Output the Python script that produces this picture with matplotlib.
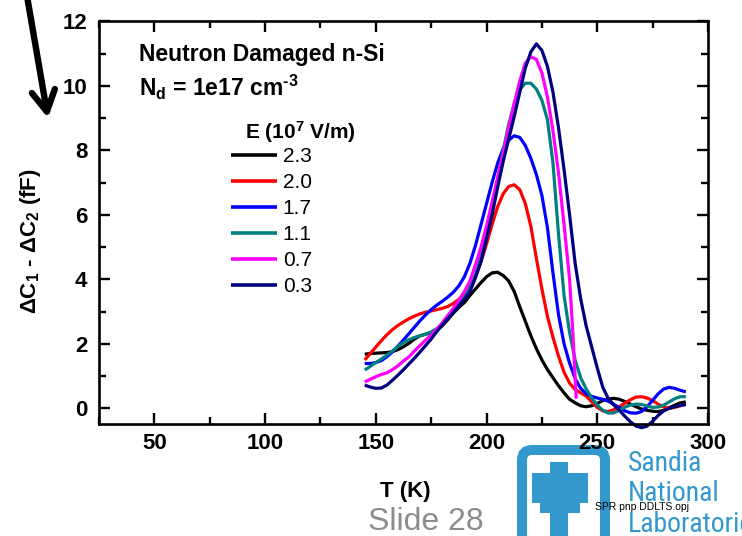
import matplotlib
matplotlib.use("Agg")
import matplotlib.pyplot as plt
from matplotlib import font_manager
from matplotlib.patches import FancyBboxPatch, Polygon
from matplotlib.ticker import MultipleLocator
from matplotlib.transforms import IdentityTransform

# ---------------------------------------------------------------- data
temperature_K = [145, 147.5, 150, 152.5, 155, 157.5, 160, 162.5, 165, 167.5,
                 170, 172.5, 175, 177.5, 180, 182.5, 185, 187.5, 190, 192.5,
                 195, 197.5, 200, 202.5, 205, 207.5, 210, 212.5, 215, 217.5,
                 220, 222.5, 225, 227.5, 230, 232.5, 235, 237.5, 240, 242.5,
                 245, 247.5, 250, 252.5, 255, 257.5, 260, 262.5, 265, 267.5,
                 270, 272.5, 275, 277.5, 280, 282.5, 285, 287.5, 290]

dC_E23 = [1.68, 1.70, 1.71, 1.72, 1.73, 1.76, 1.82, 1.91, 2.02, 2.15,
          2.25, 2.30, 2.34, 2.42, 2.56, 2.75, 2.95, 3.13, 3.28, 3.50,
          3.70, 3.90, 4.08, 4.20, 4.22, 4.12, 3.95, 3.62, 3.15, 2.70,
          2.25, 1.85, 1.50, 1.20, 0.95, 0.70, 0.48, 0.28, 0.17, 0.08,
          0.05, 0.08, 0.15, 0.24, 0.29, 0.31, 0.28, 0.21, 0.13, 0.05,
          -0.02, -0.06, -0.09, -0.10, -0.06, 0.02, 0.10, 0.17, 0.20]

dC_E20 = [1.50, 1.70, 1.90, 2.10, 2.28, 2.44, 2.57, 2.68, 2.78, 2.86,
          2.93, 2.98, 3.02, 3.06, 3.10, 3.16, 3.25, 3.38, 3.55, 3.75,
          4.10, 4.55, 5.10, 5.70, 6.25, 6.65, 6.88, 6.93, 6.78, 6.35,
          5.65, 4.65, 3.70, 2.85, 2.20, 1.62, 1.12, 0.78, 0.58, 0.48,
          0.38, 0.20, 0.03, -0.08, -0.10, -0.04, 0.05, 0.16, 0.27, 0.35,
          0.36, 0.32, 0.24, 0.13, 0.04, 0.00, 0.03, 0.08, 0.13]

dC_E17 = [1.39, 1.39, 1.42, 1.48, 1.60, 1.75, 1.93, 2.12, 2.32, 2.52,
          2.72, 2.90, 3.06, 3.20, 3.32, 3.45, 3.60, 3.80, 4.08, 4.50,
          5.05, 5.70, 6.35, 7.00, 7.60, 8.05, 8.32, 8.45, 8.40, 8.15,
          7.75, 7.25, 6.60, 5.60, 4.20, 2.90, 2.00, 1.40, 0.92, 0.62,
          0.45, 0.37, 0.32, 0.28, 0.22, 0.12, 0.02, -0.08, -0.14, -0.15,
          -0.10, 0.05, 0.25, 0.45, 0.60, 0.65, 0.62, 0.56, 0.51]

dC_E11 = [1.19, 1.30, 1.42, 1.53, 1.65, 1.78, 1.92, 2.04, 2.13, 2.20,
          2.25, 2.30, 2.37, 2.47, 2.62, 2.80, 3.00, 3.22, 3.45, 3.75,
          4.15, 4.70, 5.40, 6.20, 7.10, 8.00, 8.80, 9.45, 9.88, 10.08,
          10.08, 9.90, 9.55, 8.95, 7.60, 5.40, 3.50, 2.35, 1.50, 0.95,
          0.60, 0.32, 0.10, -0.06, -0.15, -0.14, -0.06, 0.04, 0.10, 0.13,
          0.12, 0.07, 0.03, 0.04, 0.10, 0.20, 0.30, 0.36, 0.36]

# the 0.7 scan stops at 240.5 K
temperature_E07_K = [145, 147.5, 150, 152.5, 155, 157.5, 160, 162.5, 165, 167.5,
                     170, 172.5, 175, 177.5, 180, 182.5, 185, 187.5, 190, 192.5,
                     195, 197.5, 200, 202.5, 205, 207.5, 210, 212.5, 215, 217.5,
                     220, 222.5, 225, 227.5, 230, 232.5, 235, 237.5, 239, 240.5]
dC_E07 = [0.82, 0.90, 0.98, 1.05, 1.10, 1.20, 1.32, 1.47, 1.60, 1.78,
          1.95, 2.12, 2.27, 2.45, 2.65, 2.88, 3.10, 3.35, 3.62, 3.95,
          4.45, 5.00, 5.65, 6.40, 7.15, 7.90, 8.70, 9.45, 10.15, 10.70,
          10.90, 10.82, 10.40, 9.65, 8.60, 7.30, 5.70, 4.00, 2.30, 0.30]

dC_E03 = [0.72, 0.66, 0.62, 0.63, 0.72, 0.87, 1.03, 1.20, 1.38, 1.56,
          1.75, 1.95, 2.15, 2.38, 2.58, 2.78, 2.98, 3.18, 3.38, 3.62,
          4.05, 4.55, 5.25, 6.00, 6.85, 7.65, 8.35, 9.05, 9.80, 10.55,
          11.05, 11.30, 11.10, 10.60, 9.80, 8.70, 7.40, 6.00, 4.50, 3.40,
          2.55, 1.90, 1.25, 0.65, 0.30, 0.10, -0.06, -0.25, -0.42, -0.55,
          -0.60, -0.55, -0.40, -0.22, -0.08, 0.00, 0.05, 0.09, 0.12]

field_labels = ["2.3", "2.0", "1.7", "1.1", "0.7", "0.3"]
series_T = [temperature_K, temperature_K, temperature_K, temperature_K,
            temperature_E07_K, temperature_K]
series_dC = [dC_E23, dC_E20, dC_E17, dC_E11, dC_E07, dC_E03]
colors = ["#000000", "#ff0000", "#0000ff", "#008080", "#ff00ff", "#000080"]

x_ticks = [50, 100, 150, 200, 250, 300]
y_ticks = [0, 2, 4, 6, 8, 10, 12]

# ---------------------------------------------------------------- style
plt.rcParams["font.family"] = ["Liberation Sans", "DejaVu Sans"]
plt.rcParams["mathtext.fontset"] = "custom"
plt.rcParams["mathtext.rm"] = "Liberation Sans:bold"
plt.rcParams["mathtext.it"] = "Liberation Sans:bold"
plt.rcParams["mathtext.bf"] = "Liberation Sans:bold"


def condensed_font():
    """Return (family, stretch) of a narrow face if one is installed."""
    for fam, stretch in [("Liberation Sans Narrow", "normal"),
                         ("Roboto Condensed", "normal"),
                         ("Open Sans Condensed", "normal"),
                         ("DejaVu Sans", "condensed")]:
        try:
            path = font_manager.findfont(
                font_manager.FontProperties(family=fam, stretch=stretch),
                fallback_to_default=False)
        except ValueError:
            continue
        name = path.lower()
        if "narrow" in name or "condensed" in name:
            return fam, stretch
    return None


W, H = 742, 536
fig = plt.figure(figsize=(W / 100, H / 100), dpi=100)


def fx(x):
    return x / W


def fy(y):
    return 1 - y / H


ax = fig.add_axes([fx(99), fy(423.5), (708 - 99) / W, (423.5 - 21.3) / H])

for T, dC, lab, col in zip(series_T, series_dC, field_labels, colors):
    ax.plot(T, dC, color=col, lw=2.3, label=lab, clip_on=False,
            solid_joinstyle="round", solid_capstyle="butt")

ax.set_xlim(25, 300)
ax.set_ylim(-0.47, 12)
ax.set_xticks(x_ticks)
ax.set_yticks(y_ticks)
ax.xaxis.set_minor_locator(MultipleLocator(25))
ax.yaxis.set_minor_locator(MultipleLocator(1))
ax.tick_params(which="both", direction="in", top=True, right=True,
               width=1.7, color="black")
ax.tick_params(which="major", length=7.7, labelsize=16)
ax.tick_params(which="minor", length=4.8)
ax.tick_params(axis="x", which="major", pad=6.5)
ax.tick_params(axis="y", which="major", pad=8.5)
for lbl in ax.get_xticklabels() + ax.get_yticklabels():
    lbl.set_fontweight("bold")
for sp in ax.spines.values():
    sp.set_linewidth(1.9)

ax.set_xlabel("T (K)", fontsize=16, fontweight="bold", va="center")
ax.xaxis.set_label_coords(0.503, -(492 - 423.5) / 402.2)
ax.set_ylabel("ΔC$_1$ - ΔC$_2$ (fF)", fontsize=16, fontweight="bold")
ax.yaxis.label.set_rotation_mode("default")
ax.yaxis.label.set_va("center")
ax.yaxis.label.set_ha("center")
ax.yaxis.set_label_coords((31 - 99) / 609, (423.5 - 241) / 402.2)

leg = ax.legend(loc="upper left", bbox_to_anchor=(fx(231), fy(147)),
                bbox_transform=fig.transFigure, frameon=False, fontsize=15,
                handlelength=2.2, handletextpad=0.29, labelspacing=0.34,
                borderpad=0, borderaxespad=0)
for line in leg.get_lines():
    line.set_linewidth(2.6)

fig.text(fx(300), fy(139), "E (10$^7$ V/m)", ha="center", va="baseline",
         fontsize=15, fontweight="bold")
fig.text(fx(139), fy(61), "Neutron Damaged n-Si", va="baseline",
         fontsize=16.5, fontweight="bold")
fig.text(fx(139), fy(96.5), "N$_\\mathrm{d}$ = 1e17 cm$^{\u2010 3}$",
         va="baseline", fontsize=16.5, fontweight="bold")

# pointer arrow in the upper-left corner
ax.annotate("", xy=(48, H - 118), xycoords="figure pixels",
            xytext=(27, H + 4), textcoords="figure pixels",
            arrowprops=dict(arrowstyle="->,head_length=0.75,head_width=0.42",
                            lw=4.6, color="black", shrinkA=0, shrinkB=0,
                            mutation_scale=20),
            annotation_clip=False)

# slide footer
fig.text(fx(425.5), fy(530), "Slide 28", color="#8c8c8c", fontsize=23,
         ha="center", va="baseline")

# laboratory logo
logo_blue = "#3399cc"
frame = FancyBboxPatch((522, H - 565), 83, 115,
                       boxstyle="round,pad=0,rounding_size=10",
                       transform=IdentityTransform(), fill=False,
                       edgecolor=logo_blue, linewidth=7.2, zorder=-1)
fig.add_artist(frame)
bird = [(550, 461.7), (568.3, 461.7), (568.3, 473.3), (588.3, 473.3),
        (588.3, 503.3), (580, 503.3), (580, 513.3), (568.3, 513.3),
        (568.3, 545), (550, 545), (550, 513.3), (540, 513.3),
        (540, 503.3), (531.7, 503.3), (531.7, 473.3), (550, 473.3)]
fig.add_artist(Polygon([(x, H - y) for x, y in bird], closed=True,
                       transform=IdentityTransform(), facecolor=logo_blue,
                       edgecolor="none", zorder=-1))

narrow = condensed_font()
if narrow is not None:
    lab_kw = dict(family=[narrow[0]], stretch=narrow[1], fontsize=20)
else:
    lab_kw = dict(family=["Liberation Sans"], fontsize=17.5)
for word, base in [("Sandia", 471), ("National", 501), ("Laboratories", 532)]:
    fig.text(fx(628), fy(base), word, color=logo_blue, va="baseline",
             **lab_kw)

fig.text(fx(595), fy(510), "SPR pnp DDLTS.opj", fontsize=7.5, va="baseline",
         color="black")

fig.savefig("out.png", dpi=100)
